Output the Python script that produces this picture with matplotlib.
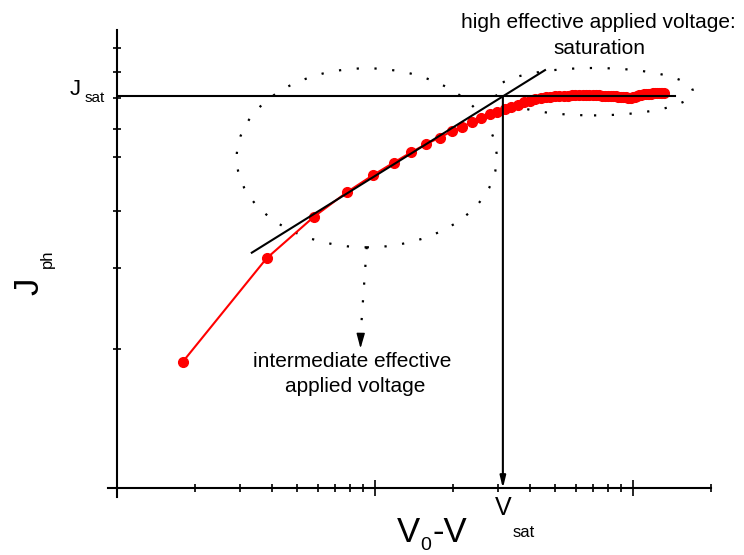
import numpy as np
import matplotlib
matplotlib.use('Agg')
import matplotlib.pyplot as plt
from matplotlib.patches import Ellipse

plt.rcParams['font.family'] = ['Liberation Sans', 'DejaVu Sans']

# effective applied voltage V0-V (log axis) and photocurrent (J_ph / J_sat)
v_eff = [1.8, 3.8, 5.8, 7.8, 9.8, 11.8, 13.8, 15.8, 17.8, 19.8,
         21.8, 23.8, 25.8, 27.8, 29.8, 31.8, 33.8, 35.8, 37.8, 39.8,
         41.8, 43.8, 45.8, 47.8, 49.8, 51.8, 53.8, 55.8, 57.8, 59.8,
         61.8, 63.8, 65.8, 67.8, 69.8, 71.8, 73.8, 75.8, 77.8, 79.8,
         81.8, 83.8, 85.8, 87.8, 89.8, 91.8, 93.8, 95.8, 97.8, 99.8,
         101.8, 103.8, 105.8, 107.8, 109.8, 111.8, 113.8, 115.8, 117.8, 119.8,
         121.8, 123.8, 125.8, 127.8, 129.8, 131.8]
j_ph = [0.3227, 0.5863, 0.6923, 0.7553, 0.7979, 0.8300, 0.8565, 0.8777, 0.8937, 0.9100,
        0.9217, 0.9337, 0.9439, 0.9534, 0.9600, 0.9661, 0.9725, 0.9783, 0.9837, 0.9883,
        0.9916, 0.9939, 0.9964, 0.9982, 0.9995, 1.0000, 1.0005, 1.0010, 1.0014, 1.0017,
        1.0020, 1.0022, 1.0022, 1.0021, 1.0020, 1.0018, 1.0016, 1.0012, 1.0008, 1.0004,
        1.0000, 0.9995, 0.9990, 0.9984, 0.9977, 0.9969, 0.9962, 0.9954, 0.9949, 0.9962,
        0.9980, 1.0005, 1.0026, 1.0038, 1.0046, 1.0051, 1.0056, 1.0059, 1.0061, 1.0064,
        1.0066, 1.0069, 1.0071, 1.0074, 1.0077, 1.0077]

tangent_x = [3.33, 45.6]
tangent_j = [0.6006, 1.066]
j_sat = 1.0
j_sat_end = 145.5
v_sat = 31.3
y_ticks = [0.3543, 0.5608, 0.7069, 0.8453, 0.9151, 0.9941, 1.0604, 1.1216]

W, H = 744, 555
fig = plt.figure(figsize=(W / 100, H / 100), dpi=100)
ax_l, ax_r, ax_t, ax_b = 117, 710.7, 30, 488.3
ax = fig.add_axes([ax_l / W, 1 - ax_b / H, (ax_r - ax_l) / W, (ax_b - ax_t) / H])

def afrac(px, py):
    return ((px - ax_l) / (ax_r - ax_l), (ax_b - py) / (ax_b - ax_t))

def ftext(px, py, s, size, **kw):
    fig.text(px / W, 1 - py / H, s, fontsize=size, va='baseline', **kw)

ax.set_xscale('log')
ax.set_xlim(1, 200)
ax.set_ylim(0, (ax_b - ax_t) / 392.3)
ax.set_yticks(y_ticks)
ax.yaxis.set_minor_locator(matplotlib.ticker.NullLocator())
ax.tick_params(which='both', labelbottom=False, labelleft=False, direction='inout', width=1.2, color='k')
ax.tick_params(axis='x', which='major', length=12)
ax.tick_params(axis='x', which='minor', length=6)
ax.tick_params(axis='y', which='major', length=6)
for s in ['top', 'right']:
    ax.spines[s].set_visible(False)
for s in ['left', 'bottom']:
    ax.spines[s].set_linewidth(1.5)
# axis lines run a little past the origin
ax.plot([-9 / (ax_r - ax_l), 0], [0, 0], color='k', lw=1.5, transform=ax.transAxes, clip_on=False)
ax.plot([0, 0], [0, -9 / (ax_b - ax_t)], color='k', lw=1.5, transform=ax.transAxes, clip_on=False)

ax.plot(v_eff, j_ph, color='red', lw=1.5, marker='o', ms=7, mec='red', mfc='red', zorder=3, clip_on=False)

ax.plot(tangent_x, tangent_j, color='k', lw=1.5, zorder=4)
ax.plot([1, j_sat_end], [j_sat, j_sat], color='k', lw=1.5, zorder=4)
ax.annotate('', xy=(v_sat, 0), xytext=(v_sat, j_sat),
            arrowprops=dict(arrowstyle='-|>,head_length=0.7,head_width=0.17', color='k', lw=1.5,
                            shrinkA=0, shrinkB=0, mutation_scale=10), zorder=4)

# dotted ellipses
dots = (0, (1, 7))
for (cx, cy, hw, hh) in [(366.7, 157.8, 130, 89.5), (594, 91.7, 99, 23.7)]:
    c = afrac(cx, cy)
    ax.add_patch(Ellipse(c, 2 * hw / (ax_r - ax_l), 2 * hh / (ax_b - ax_t), transform=ax.transAxes,
                         fill=False, ls=dots, lw=1.6, ec='k', clip_on=False))

p0, p1 = afrac(366.7, 247), afrac(360.8, 332)
ax.plot([p0[0], p1[0]], [p0[1], p1[1]], color='k', ls=dots, lw=1.6, transform=ax.transAxes)
ax.annotate('', xy=afrac(360.5, 348.5), xytext=afrac(360.7, 334), xycoords='axes fraction',
            arrowprops=dict(arrowstyle='-|>,head_length=0.9,head_width=0.25', color='k', lw=1,
                            shrinkA=0, shrinkB=0, mutation_scale=10))

# annotations
ftext(598, 28.3, 'high effective applied voltage:', 15, ha='center')
ftext(599, 54.3, 'saturation', 15, ha='center')
ftext(352, 367.3, 'intermediate effective', 15, ha='center')
ftext(355, 391.7, 'applied voltage', 15, ha='center')

# axis labels with subscripts
fig.text(38.3 / W, 1 - 295 / H, 'J', fontsize=25, rotation=90, rotation_mode='anchor', ha='left', va='baseline')
fig.text(52 / W, 1 - 268 / H, 'ph', fontsize=12, rotation=90, rotation_mode='anchor', ha='left', va='baseline')
ftext(397, 542, 'V', 25, ha='left')
ftext(420, 550, '0', 14, ha='left')
ftext(433, 542, '-V', 25, ha='left')
ftext(495, 515, 'V', 18, ha='left')
ftext(513, 537, 'sat', 12, ha='left')
ftext(70, 95, 'J', 16, ha='left')
ftext(85, 102, 'sat', 11, ha='left')

fig.savefig('out.png', dpi=100)
